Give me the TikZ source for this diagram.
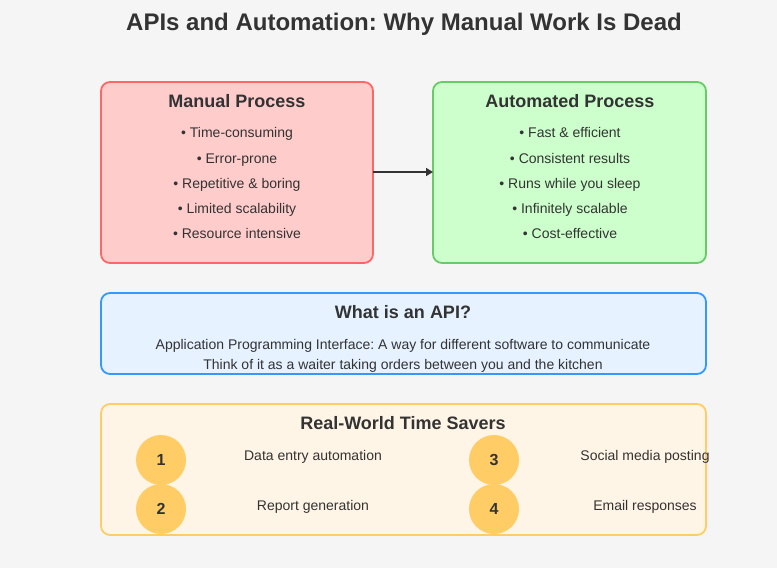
\documentclass[tikz,border=0pt]{standalone}
\usepackage{fontspec}
\setmainfont{Liberation Sans}
\frenchspacing
\usetikzlibrary{arrows.meta}
\definecolor{bg}{HTML}{F5F5F5}
\definecolor{txt}{HTML}{333333}
\definecolor{redfill}{HTML}{FFCCCC}
\definecolor{redline}{HTML}{FF6666}
\definecolor{greenfill}{HTML}{CCFFCC}
\definecolor{greenline}{HTML}{66CC66}
\definecolor{bluefill}{HTML}{E6F2FF}
\definecolor{blueline}{HTML}{3399FF}
\definecolor{orangefill}{HTML}{FFF5E6}
\definecolor{orangeline}{HTML}{FFCC66}
\definecolor{circfill}{HTML}{FFCC66}
\tikzset{
  panel/.style={rounded corners=9pt, line width=1.8pt},
  ttl/.style={text=txt, font=\fontsize{18}{21}\selectfont\bfseries, anchor=base, inner sep=0pt, yshift=-6.5pt},
  item/.style={text=txt, font=\fontsize{14}{16}\selectfont, anchor=base, inner sep=0pt, yshift=-5pt},
  numcirc/.style={circle, fill=circfill, minimum size=50pt, inner sep=0pt, text=txt, font=\fontsize{16}{18}\selectfont\bfseries},
}
\begin{document}
\begin{tikzpicture}[x=1pt,y=-1pt]
\fill[bg] (0,0) rectangle (777,568);
\useasboundingbox (0,0) rectangle (777,568);
\node[text=txt, font=\fontsize{24}{28}\selectfont\bfseries, anchor=base, inner sep=0pt] (title) at (404,30.5) {APIs and Automation: Why Manual Work Is Dead};

\draw[panel, draw=redline, fill=redfill] (101,82) rectangle (373,263);
\coordinate (manR) at (373,172);
\node[ttl] (mt) at (237,101) {Manual Process};
\node[item] (m1) at (237,132) {• Time-consuming};
\node[item] (m2) at (237,158) {• Error-prone};
\node[item] (m3) at (237,183) {• Repetitive \& boring};
\node[item] (m4) at (237,208) {• Limited scalability};
\node[item] (m5) at (237,233) {• Resource intensive};

\draw[panel, draw=greenline, fill=greenfill] (433,82) rectangle (706,263);
\coordinate (autL) at (433,172);
\node[ttl] (at) at (570,101) {Automated Process};
\node[item] (a1) at (570,132) {• Fast \& efficient};
\node[item] (a2) at (570,158) {• Consistent results};
\node[item] (a3) at (570,183) {• Runs while you sleep};
\node[item] (a4) at (570,208) {• Infinitely scalable};
\node[item] (a5) at (570,233) {• Cost-effective};

\draw[txt, line width=1.5pt, -{Triangle[length=7pt,width=8pt]}] (manR) -- (autL);

\draw[panel, draw=blueline, fill=bluefill] (101,293) rectangle (706,374);
\node[ttl] (apit) at (403,312) {What is an API?};
\node[item] (api1) at (403,344) {Application Programming Interface: A way for different software to communicate};
\node[item] (api2) at (403,364) {Think of it as a waiter taking orders between you and the kitchen};

\draw[panel, draw=orangeline, fill=orangefill] (101,404) rectangle (706,535);
\node[ttl] (tst) at (403,423) {Real-World Time Savers};
\node[numcirc] (c1) at (161,460) {1};
\node[numcirc] (c2) at (161,509) {2};
\node[numcirc] (c3) at (494,460) {3};
\node[numcirc] (c4) at (494,509) {4};
\node[item] (l1) at (313,455) {Data entry automation};
\node[item] (l2) at (313,505) {Report generation};
\node[item] (l3) at (645,455) {Social media posting};
\node[item] (l4) at (645,505) {Email responses};
\end{tikzpicture}
\end{document}
